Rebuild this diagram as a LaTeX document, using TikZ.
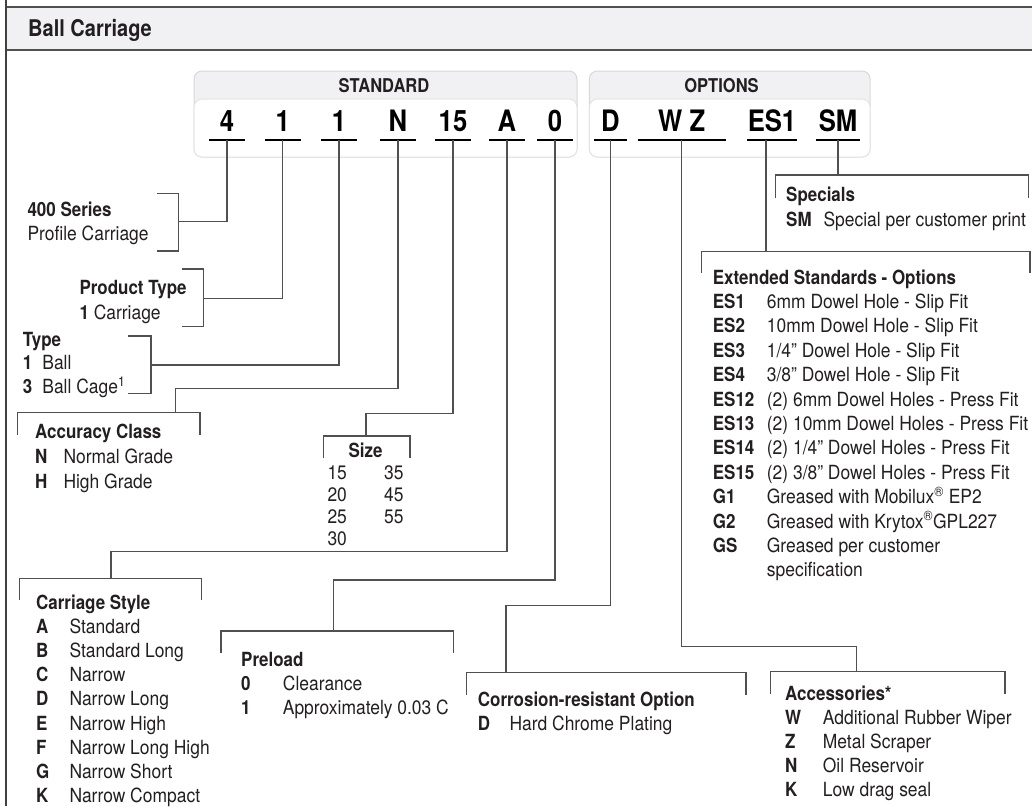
\documentclass[tikz,border=0pt]{standalone}
\usepackage{fontspec}
\setmainfont{TeX Gyre Heros}[FakeStretch=0.895, BoldFeatures={FakeStretch=0.87}]
\usepackage{array}
\usepackage{tikz}
\definecolor{txt}{HTML}{231F20}
\definecolor{wire}{HTML}{505050}
\definecolor{band}{HTML}{F1F1F3}
\definecolor{rim}{HTML}{D8D8D8}
\newcolumntype{K}[1]{>{\bfseries}p{#1}}

\begin{document}
\begin{tikzpicture}[x=1pt, y=-1pt,
  conn/.style = {draw=wire, line width=1.4pt},
  uline/.style = {draw=black, line width=2pt},
  code/.style = {anchor=base, inner sep=0pt, text depth=8.3pt, text=black, font=\fontsize{29.5}{31}\selectfont\bfseries},
  list/.style = {anchor=base west, inner sep=0pt, text=txt, font=\fontsize{19.5}{24.2}\selectfont},
  hdbox/.style = {draw=rim, fill=band, rounded corners=8pt, line width=1pt, inner sep=0pt},
  wbox/.style = {draw=rim!70, fill=white, rounded corners=8pt, line width=1pt, inner sep=0pt}
  ]

\useasboundingbox (0,0) rectangle (1032,806);

% frame and title band
\fill[band] (6,7) rectangle (1032,50);
\draw[wire, line width=1.5pt] (6,7) -- (1032,7);
\draw[wire, line width=1.5pt] (6,50) -- (1032,50);
\draw[wire!80!black, line width=2.5pt] (6,0) -- (6,806);
\node[anchor=base west, inner sep=0pt, text=txt, font=\fontsize{23}{26}\selectfont\bfseries] (title) at (28,36.7) {Ball Carriage};

% STANDARD / OPTIONS boxes
\node[hdbox, minimum width=383pt, minimum height=86pt] (std) at (385.5,114) {};
\node[wbox, minimum width=383pt, minimum height=58pt] (stdin) at (385.5,128) {};
\node[anchor=base, inner sep=0pt, text=txt, font=\fontsize{19}{21}\selectfont\bfseries] (stdhead) at (384,92.3) {STANDARD};

\node[hdbox, minimum width=280.7pt, minimum height=86pt] (opt) at (729.7,114) {};
\node[wbox, minimum width=280.7pt, minimum height=58pt] (optin) at (729.7,128) {};
\node[anchor=base, inner sep=0pt, text=txt, font=\fontsize{19}{21}\selectfont\bfseries] (opthead) at (721.5,92.3) {OPTIONS};

%--- part number characters with underline ---
\foreach \nm/\x/\w/\t in {c4/227/36/4, c1a/282.7/36/1, c1b/339/36/1, cN/398/36/N, c15/453/36/15, cA/507/36/A, c0/555/36/0, cD/610.3/32.7/D, cWZ/681.7/88/{W Z}, cES/772/49.4/ES1, cSM/838/44.3/SM}
{
  \node[code, minimum width=\w pt] (\nm) at (\x,131.7) {\t};
  \draw[uline] (\nm.south west) -- (\nm.south east);
}

%--- brackets ---
\draw[conn] (157,193.3) -| (178.3,251) -- (157,251);        % 400 series
\draw[conn] (181.7,269) -| (203.3,326.7) -- (181.7,326.7);  % product type
\draw[conn] (128.3,336) -| (151,393.3) -- (128.3,393.3);    % type
\draw[conn] (17.3,435) |- (200,412.7) -- (200,435);         % accuracy
\draw[conn] (323.3,458.3) |- (410,436) -- (410,458.3);      % size
\draw[conn] (19.3,600) |- (201.7,578.3) -- (201.7,600);     % carriage style
\draw[conn] (221,652.7) |- (453.3,631) -- (453.3,652.7);    % preload
\draw[conn] (466.7,695) |- (746,672.7) -- (746,695);        % corrosion
\draw[conn] (770.7,694) |- (1005,671.7) -- (1005,694);      % accessories
\draw[conn] (701.7,273.3) |- (1030,251.7) -- (1030,273.3);  % extended
\draw[conn] (775.7,198.3) |- (1028.3,175) -- (1028.3,198.3);% specials

%--- bracket attach points ---
\coordinate (b400) at (178.3,221.7);
\coordinate (bprod) at (203.3,298.3);
\coordinate (btype) at (151,365);
\coordinate (kacc) at (175.7,388.3);  \coordinate (bacc) at (175.7,412.7);
\coordinate (ksize) at (366,413.3);   \coordinate (bsize) at (366,436);
\coordinate (kstyle) at (111,551.7);  \coordinate (bstyle) at (111,578.3);
\coordinate (kpre) at (333.3,580);    \coordinate (bpre) at (333.3,631);
\coordinate (kcor) at (506,605.7);    \coordinate (bcor) at (506,672.7);
\coordinate (kacs) at (856.7,646.7);  \coordinate (bacs) at (856.7,671.7);
\coordinate (bext) at (766,251.7);
\coordinate (bspec) at (838,175);

%--- connectors ---
\draw[conn] (c4.south) |- (b400);
\draw[conn] (c1a.south) |- (bprod);
\draw[conn] (c1b.south) |- (btype);
\draw[conn] (cN.south) |- (kacc) -- (bacc);
\draw[conn] (c15.south) |- (ksize) -- (bsize);
\draw[conn] (cA.south) |- (kstyle) -- (bstyle);
\draw[conn] (c0.south) |- (kpre) -- (bpre);
\draw[conn] (cD.south) |- (kcor) -- (bcor);
\draw[conn] (cWZ.south) |- (kacs) -- (bacs);
\draw[conn] (cES.south -| bext) -- (bext);
\draw[conn] (cSM.south) -- (bspec);

%--- texts ---
\node[list, font=\fontsize{19.5}{24}\selectfont] (series) at (27.3,216) {\begin{tabular}[t]{@{}l@{}}
\textbf{400 Series}\\ Profile Carriage\end{tabular}};

\node[list, font=\fontsize{19.5}{25.3}\selectfont] (prodtype) at (79.3,294) {\begin{tabular}[t]{@{}l@{}}
\textbf{Product Type}\\ \textbf{1} Carriage\end{tabular}};

\node[list, font=\fontsize{19.5}{22.8}\selectfont] (type) at (22.7,346.7) {\begin{tabular}[t]{@{}K{19.5pt}@{}l@{}}
\multicolumn{2}{@{}l@{}}{\textbf{Type}}\\
1 & Ball\\
3 & Ball Cage\textsuperscript{1}\end{tabular}};

\node[list, font=\fontsize{19.5}{25}\selectfont] (accuracy) at (35,438.3) {\begin{tabular}[t]{@{}K{28.3pt}@{}l@{}}
\multicolumn{2}{@{}l@{}}{\textbf{Accuracy Class}}\\
N & Normal Grade\\
H & High Grade\end{tabular}};

\node[list, font=\fontsize{19.5}{22}\selectfont] (size) at (327.3,457.3) {\begin{tabular}[t]{@{}p{56.7pt}@{}l@{}}
\multicolumn{2}{@{}c@{}}{\textbf{Size}}\\
15 & 35\\ 20 & 45\\ 25 & 55\\ 30 & \end{tabular}};

\node[list, font=\fontsize{19.5}{24.15}\selectfont] (style) at (36,609.3) {\begin{tabular}[t]{@{}K{33.3pt}@{}l@{}}
\multicolumn{2}{@{}l@{}}{\textbf{Carriage Style}}\\
A & Standard\\
B & Standard Long\\
C & Narrow\\
D & Narrow Long\\
E & Narrow High\\
F & Narrow Long High\\
G & Narrow Short\\
K & Narrow Compact\end{tabular}};

\node[list, font=\fontsize{19.5}{24}\selectfont] (preload) at (241,666) {\begin{tabular}[t]{@{}K{41.7pt}@{}l@{}}
\multicolumn{2}{@{}l@{}}{\textbf{Preload}}\\
0 & Clearance\\
1 & Approximately 0.03 C\end{tabular}};

\node[list, font=\fontsize{19.5}{24}\selectfont] (corrosion) at (477.7,706) {\begin{tabular}[t]{@{}K{31.6pt}@{}l@{}}
\multicolumn{2}{@{}l@{}}{\textbf{Corrosion-resistant Option}}\\
D & Hard Chrome Plating\end{tabular}};

\node[list] (accessories) at (785,700) {\begin{tabular}[t]{@{}K{37.7pt}@{}l@{}}
\multicolumn{2}{@{}l@{}}{\textbf{Accessories*}}\\
W & Additional Rubber Wiper\\
Z & Metal Scraper\\
N & Oil Reservoir\\
K & Low drag seal\end{tabular}};

\node[list, font=\fontsize{19.5}{24.4}\selectfont] (extended) at (712.7,284) {\begin{tabular}[t]{@{}K{54pt}@{}l@{}}
\multicolumn{2}{@{}l@{}}{\textbf{Extended Standards - Options}}\\
ES1 & 6mm Dowel Hole - Slip Fit\\
ES2 & 10mm Dowel Hole - Slip Fit\\
ES3 & 1/4” Dowel Hole - Slip Fit\\
ES4 & 3/8” Dowel Hole - Slip Fit\\
ES12 & (2) 6mm Dowel Holes - Press Fit\\
ES13 & (2) 10mm Dowel Holes - Press Fit\\
ES14 & (2) 1/4” Dowel Holes - Press Fit\\
ES15 & (2) 3/8” Dowel Holes - Press Fit\\
G1 & Greased with Mobilux\textsuperscript{®} EP2\\
G2 & Greased with Krytox\textsuperscript{®}GPL227\\
GS & Greased per customer\\
 & specification\end{tabular}};

\node[list, font=\fontsize{19.5}{24.3}\selectfont] (specials) at (786,201.7) {\begin{tabular}[t]{@{}K{37.3pt}@{}l@{}}
\multicolumn{2}{@{}l@{}}{\textbf{Specials}}\\
SM & Special per customer print\end{tabular}};

\end{tikzpicture}
\end{document}
